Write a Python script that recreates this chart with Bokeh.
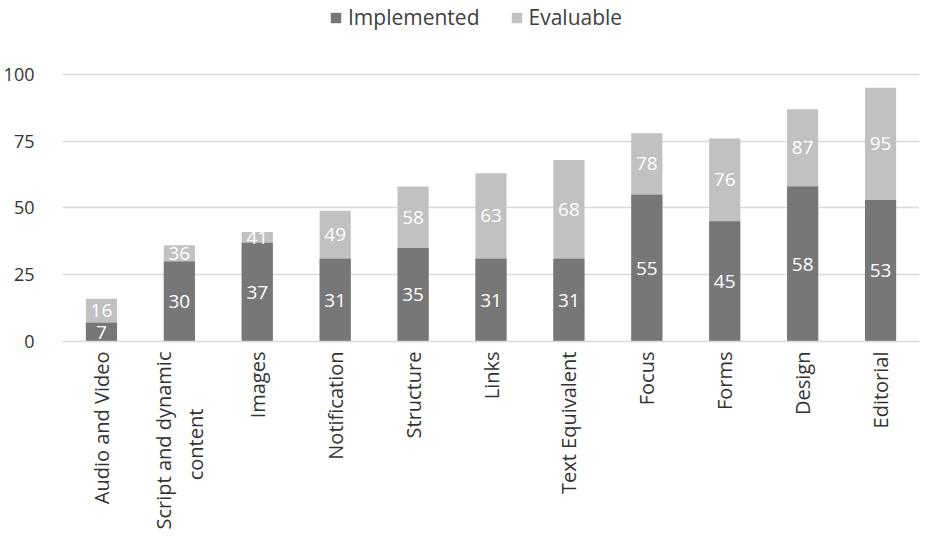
from bokeh.plotting import figure
from bokeh.models import ColumnDataSource, Legend, LegendItem, FixedTicker, Range1d
from bokeh.core.properties import value
from bokeh.embed import file_html
from bokeh.resources import INLINE
import math

NB = "\u00a0"
categories = ["Audio and Video", "Script and dynamic\ncontent" + NB * 11, "Images", "Notification",
              "Structure", "Links", "Text Equivalent", "Focus", "Forms", "Design", "Editorial"]
implemented = [7, 30, 37, 31, 35, 31, 31, 55, 45, 58, 53]
evaluable = [16, 36, 41, 49, 58, 63, 68, 78, 76, 87, 95]
y_ticks = [0, 25, 50, 75, 100]

DARK = "#777777"
LIGHT = "#c1c1c1"
FONT = "Open Sans"

src = ColumnDataSource(dict(
    cat=categories,
    impl=implemented,
    ev=evaluable,
    impl_mid=[i / 2 for i in implemented],
    ev_mid=[(i + e) / 2 for i, e in zip(implemented, evaluable)],
    impl_txt=[str(v) for v in implemented],
    ev_txt=[str(v) for v in evaluable],
))

p = figure(x_range=categories, y_range=Range1d(0, 127.7), width=919, height=532,
           output_backend="svg", toolbar_location=None,
           min_border_left=55, min_border_right=0, min_border_top=0, min_border_bottom=191)
p.outline_line_color = None
p.background_fill_color = "white"

r_ev = p.vbar(x="cat", top="ev", bottom=0, width=0.4, source=src, fill_color=LIGHT, line_color=None)
r_im = p.vbar(x="cat", top="impl", bottom=0, width=0.4, source=src, fill_color=DARK, line_color=None)

p.text(x="cat", y="impl_mid", text="impl_txt", source=src, text_color="white",
       text_font=value(FONT), text_font_size="19px", text_align="center", text_baseline="middle")
p.text(x="cat", y="ev_mid", text="ev_txt", source=src, text_color="white",
       text_font=value(FONT), text_font_size="19px", text_align="center", text_baseline="middle")

p.yaxis.ticker = FixedTicker(ticks=y_ticks)
p.yaxis.axis_line_color = None
p.yaxis.major_tick_line_color = None
p.yaxis.minor_tick_line_color = None
p.yaxis.major_label_text_font = FONT
p.yaxis.major_label_text_font_size = "18px"
p.yaxis.major_label_text_color = "#333333"
p.yaxis.major_label_standoff = 22

p.xaxis.axis_line_color = "#d9d9d9"
p.xaxis.axis_line_width = 1.5
p.xaxis.major_tick_line_color = None
p.xaxis.minor_tick_line_color = None
p.xaxis.major_label_orientation = math.pi / 2
p.xaxis.major_label_text_font = FONT
p.xaxis.major_label_text_font_size = "20px"
p.xaxis.major_label_text_color = "#333333"
p.xaxis.major_label_standoff = 4

p.xgrid.grid_line_color = None
p.ygrid.grid_line_color = "#d9d9d9"
p.ygrid.grid_line_width = 1.5

legend = Legend(items=[LegendItem(label="Implemented", renderers=[r_im]),
                       LegendItem(label="Evaluable", renderers=[r_ev])],
                location=(267, 310), orientation="horizontal",
                background_fill_alpha=0, border_line_color=None,
                label_text_font=FONT, label_text_font_size="21px", label_text_color="#404040",
                glyph_width=13, glyph_height=13, spacing=30, label_standoff=6,
                padding=0, margin=0)
p.add_layout(legend, "center")

open("out.html", "w").write(file_html(p, INLINE))
